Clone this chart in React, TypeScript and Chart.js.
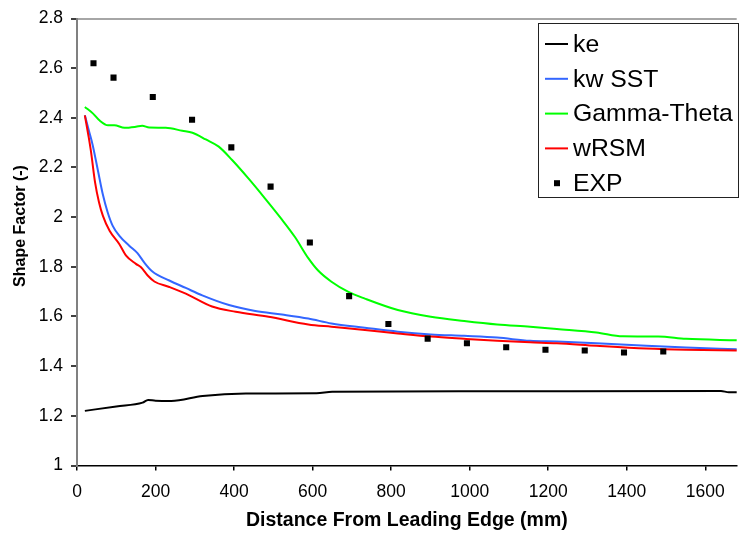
import React, { useEffect, useRef } from "react";
import { Chart, registerables } from "chart.js";

Chart.register(...registerables);

const FONT = '"Liberation Sans", Arial, sans-serif';

// ---- Data ----
const keX = [20, 100, 167, 181, 200, 240, 320, 430, 610, 650, 1000, 1640, 1660, 1680];
const keY = [1.22, 1.238, 1.253, 1.264, 1.261, 1.26, 1.28, 1.29, 1.291, 1.297, 1.299, 1.3, 1.295, 1.295];

const sstX = [20, 30, 40, 53, 66, 78, 91, 108, 133, 154, 171, 192, 235, 277, 319, 387, 454, 522, 589, 648, 733, 817, 901, 986, 1070, 1154, 1222, 1323, 1450, 1551, 1680];
const sstY = [2.41, 2.35, 2.29, 2.19, 2.09, 2.02, 1.965, 1.925, 1.885, 1.855, 1.818, 1.781, 1.745, 1.715, 1.685, 1.646, 1.622, 1.608, 1.592, 1.572, 1.555, 1.539, 1.528, 1.522, 1.515, 1.502, 1.499, 1.492, 1.482, 1.475, 1.468];

const gtX = [20, 41, 57, 79, 95, 121, 150, 166, 184, 226, 268, 294, 328, 361, 395, 437, 479, 522, 555, 589, 614, 648, 690, 733, 817, 901, 986, 1070, 1154, 1222, 1323, 1390, 1480, 1551, 1680];
const gtY = [2.444, 2.417, 2.39, 2.37, 2.37, 2.36, 2.364, 2.368, 2.361, 2.36, 2.348, 2.34, 2.313, 2.284, 2.23, 2.155, 2.075, 1.99, 1.92, 1.835, 1.785, 1.74, 1.7, 1.672, 1.626, 1.599, 1.582, 1.568, 1.559, 1.55, 1.536, 1.52, 1.519, 1.51, 1.504];

const rsmX = [20, 30, 36, 46, 56, 66, 83, 108, 125, 150, 163, 180, 197, 235, 277, 344, 404, 488, 589, 648, 733, 817, 901, 986, 1070, 1154, 1222, 1323, 1450, 1551, 1680];
const rsmY = [2.41, 2.32, 2.26, 2.14, 2.06, 2.005, 1.945, 1.891, 1.845, 1.812, 1.798, 1.765, 1.741, 1.719, 1.692, 1.64, 1.619, 1.599, 1.568, 1.559, 1.546, 1.532, 1.519, 1.51, 1.502, 1.496, 1.492, 1.482, 1.471, 1.466, 1.463];

const expX = [42, 93, 193, 293, 393, 493, 593, 693, 793, 893, 993, 1093, 1193, 1293, 1393, 1493];
const expY = [2.62, 2.562, 2.484, 2.392, 2.281, 2.123, 1.898, 1.682, 1.57, 1.511, 1.492, 1.476, 1.466, 1.463, 1.455, 1.459];

const xTickValues = [0, 200, 400, 600, 800, 1000, 1200, 1400, 1600];
const yTickValues = [1, 1.2, 1.4, 1.6, 1.8, 2, 2.2, 2.4, 2.6, 2.8];
const yTickLabels = ["1", "1.2", "1.4", "1.6", "1.8", "2", "2.2", "2.4", "2.6", "2.8"];

const xTitle = "Distance From Leading Edge (mm)";
const yTitle = "Shape Factor (-)";

const pts = (xs: number[], ys: number[]) => xs.map((x, i) => ({ x, y: ys[i] }));

const boxLegend = {
  id: "boxLegend",
  afterDraw(chart: any) {
    const ctx = chart.ctx as CanvasRenderingContext2D;
    ctx.save();
    // legend box
    ctx.fillStyle = "#ffffff";
    ctx.fillRect(538, 23, 201, 175);
    ctx.strokeStyle = "#222";
    ctx.lineWidth = 1;
    ctx.strokeRect(538.5, 23.5, 200, 174);
    ctx.font = `24.8px ${FONT}`;
    ctx.textBaseline = "middle";
    ctx.textAlign = "left";
    chart.data.datasets.forEach((ds: any, i: number) => {
      const y = 44 + i * 34.8;
      if (ds.showLine === false) {
        ctx.fillStyle = ds.backgroundColor;
        ctx.fillRect(554, y - 3, 6, 6);
      } else {
        ctx.strokeStyle = ds.borderColor;
        ctx.lineWidth = 2;
        ctx.beginPath();
        ctx.moveTo(545, y);
        ctx.lineTo(568, y);
        ctx.stroke();
      }
      ctx.fillStyle = "#000";
      ctx.fillText(ds.label, 573, y + 1);
    });
    // y axis title
    ctx.font = `bold 16px ${FONT}`;
    ctx.translate(21, 226);
    ctx.rotate(-Math.PI / 2);
    ctx.textAlign = "center";
    ctx.textBaseline = "middle";
    ctx.fillStyle = "#000";
    ctx.fillText(yTitle, 0, 0);
    ctx.restore();
  },
};

export default function App() {
  const ref = useRef<HTMLCanvasElement | null>(null);

  useEffect(() => {
    if (!ref.current) return;
    const lineDs = (label: string, xs: number[], ys: number[], color: string, order: number) => ({
      label,
      data: pts(xs, ys),
      borderColor: color,
      backgroundColor: color,
      borderWidth: 2,
      pointRadius: 0,
      cubicInterpolationMode: "monotone" as const,
      order,
      clip: false as any,
    });
    const chart = new Chart(ref.current, {
      type: "line",
      data: {
        datasets: [
          lineDs("ke", keX, keY, "#000000", 4),
          lineDs("kw SST", sstX, sstY, "#3366ff", 3),
          lineDs("Gamma-Theta", gtX, gtY, "#00ff00", 2),
          lineDs("wRSM", rsmX, rsmY, "#ff0000", 1),
          {
            label: "EXP",
            data: pts(expX, expY),
            showLine: false,
            pointStyle: "rect",
            pointRadius: 4.3,
            borderWidth: 0,
            borderColor: "#000",
            backgroundColor: "#000",
            order: 0,
          } as any,
        ],
      },
      options: {
        responsive: false,
        animation: false,
        devicePixelRatio: 1,
        events: [],
        layout: { padding: { top: 14, left: 0, right: 0, bottom: 0 } },
        plugins: { legend: { display: false }, tooltip: { enabled: false } },
        scales: {
          x: {
            type: "linear",
            min: 0,
            max: 1680,
            afterBuildTicks: (s: any) => {
              s.ticks = xTickValues.map((v) => ({ value: v }));
            },
            afterFit: (s: any) => {
              s.height = 68.5;
            },
            border: { display: true, color: "#000", width: 1.5 },
            grid: { drawOnChartArea: false, drawTicks: true, tickLength: 5, color: "#000", lineWidth: 1.5 },
            ticks: {
              font: { family: FONT, size: 17.5 },
              color: "#000",
              padding: 11,
              maxRotation: 0,
              autoSkip: false,
              callback: (v: any) => String(v),
            },
            title: {
              display: true,
              text: xTitle,
              font: { family: FONT, size: 19.5, weight: "bold" },
              color: "#000",
              padding: { top: 0, bottom: 2 },
            },
          },
          y: {
            type: "linear",
            min: 1,
            max: 2.8,
            afterBuildTicks: (s: any) => {
              s.ticks = yTickValues.map((v) => ({ value: v }));
            },
            afterFit: (s: any) => {
              s.width = 77;
            },
            border: { display: true, color: "#808080", width: 2 },
            grid: {
              drawOnChartArea: true,
              drawTicks: true,
              tickLength: 6,
              tickColor: "#000",
              tickWidth: 1.5,
              lineWidth: 2,
              color: (c: any) => (c.tick && Math.abs(c.tick.value - 2.8) < 1e-6 ? "#a6a6a6" : "rgba(0,0,0,0)"),
            },
            ticks: {
              font: { family: FONT, size: 17.5 },
              color: "#000",
              padding: 8,
              autoSkip: false,
              callback: (v: any) => {
                const i = yTickValues.findIndex((t) => Math.abs(t - Number(v)) < 1e-6);
                return i >= 0 ? yTickLabels[i] : "";
              },
            },
          },
        },
      },
      plugins: [boxLegend],
    });
    return () => chart.destroy();
  }, []);

  return (
    <div style={{ position: "fixed", left: 0, top: 0, width: 741, height: 534, background: "#fff" }}>
      <canvas ref={ref} width={741} height={534} style={{ display: "block", width: 741, height: 534 }} />
    </div>
  );
}
